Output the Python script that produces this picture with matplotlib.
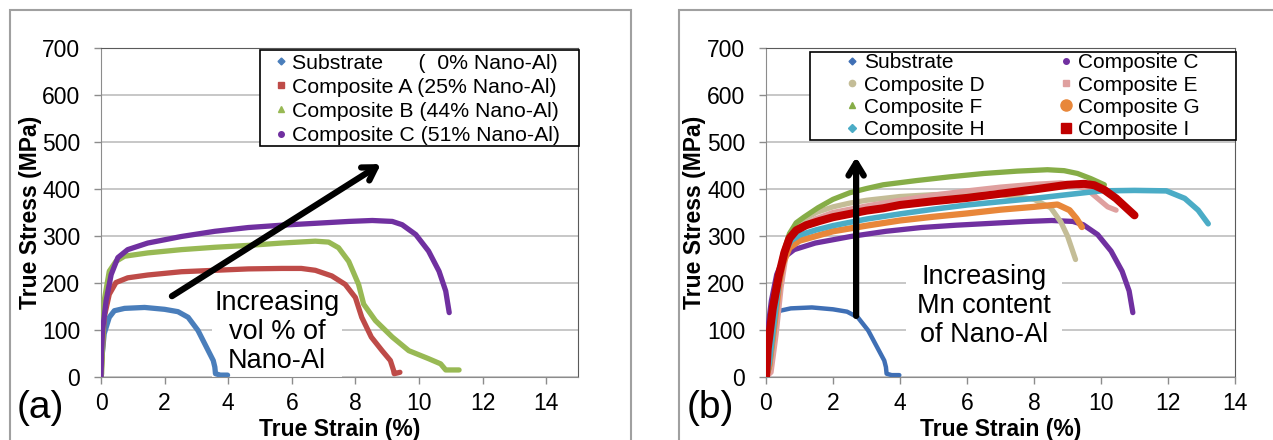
import matplotlib
matplotlib.use("Agg")
import matplotlib.pyplot as plt
from matplotlib.patches import Rectangle
from matplotlib.lines import Line2D

plt.rcParams['font.family'] = ['Liberation Sans', 'DejaVu Sans']

W, H, DPI = 1273, 440, 100

# ---------------- data (true strain %, true stress MPa) ----------------
substrate_x = [0.0, 0.02, 0.1, 0.26, 0.42, 0.74, 1.37, 2.0, 2.42, 2.74, 3.05, 3.32, 3.53, 3.58, 3.6, 3.75, 3.98]
substrate_y = [0, 35, 92, 127, 141, 146, 148, 144, 139, 127, 99, 63, 35, 21, 7, 4, 4]

compA_x = [0.0, 0.02, 0.1, 0.26, 0.47, 0.84, 1.47, 2.53, 3.58, 4.63, 5.68, 6.3, 6.74, 7.26, 7.68, 8.0, 8.2, 8.5, 8.84, 9.1, 9.2, 9.22, 9.4]
compA_y = [0, 28, 127, 176, 201, 211, 217, 224, 227, 230, 231, 231, 227, 215, 197, 169, 127, 85, 56, 35, 14, 7, 10]

compB_x = [0.0, 0.02, 0.1, 0.26, 0.47, 0.74, 1.47, 2.53, 3.58, 4.63, 5.68, 6.74, 7.16, 7.47, 7.79, 8.1, 8.26, 8.63, 9.16, 9.68, 10.3, 10.68, 10.84, 11.26]
compB_y = [0, 7, 162, 225, 246, 257, 264, 271, 276, 280, 285, 289, 287, 275, 246, 197, 155, 120, 85, 56, 39, 28, 15, 15]

compC_x = [0.0, 0.02, 0.05, 0.16, 0.32, 0.53, 0.84, 1.47, 2.53, 3.58, 4.63, 5.68, 6.74, 7.79, 8.53, 9.16, 9.47, 9.9, 10.3, 10.63, 10.84, 10.95]
compC_y = [0, 56, 100, 162, 218, 254, 271, 285, 299, 310, 318, 323, 327, 331, 333, 331, 324, 303, 268, 225, 183, 137]

compD_x = [0.0, 0.1, 0.25, 0.4, 0.55, 0.75, 1.0, 1.5, 2.0, 2.5, 3.0, 4.0, 5.0, 6.0, 7.0, 8.0, 8.5, 8.8, 9.0, 9.24]
compD_y = [0, 15, 100, 200, 265, 305, 330, 350, 362, 370, 376, 384, 388, 390, 388, 378, 360, 330, 300, 250]

compE_x = [0.0, 0.15, 0.3, 0.45, 0.6, 0.8, 1.0, 1.5, 2.0, 3.0, 4.0, 5.0, 6.0, 7.0, 8.0, 8.8, 9.2, 9.6, 9.9, 10.2, 10.45]
compE_y = [0, 10, 90, 190, 260, 300, 318, 337, 350, 364, 376, 387, 396, 404, 410, 413, 410, 398, 380, 362, 355]

compF_x = [0.0, 0.1, 0.2, 0.35, 0.5, 0.7, 0.9, 1.13, 1.55, 2.0, 2.5, 3.0, 3.5, 4.5, 5.5, 6.5, 7.5, 8.4, 8.9, 9.3, 9.7, 10.1]
compF_y = [0, 20, 80, 180, 260, 305, 328, 340, 360, 378, 392, 401, 409, 418, 426, 433, 438, 441, 439, 433, 422, 409]

compG_x = [0.0, 0.1, 0.25, 0.4, 0.5, 0.7, 1.0, 1.5, 2.0, 3.0, 4.0, 5.0, 6.0, 7.0, 8.0, 8.7, 9.06, 9.27, 9.43]
compG_y = [0, 25, 110, 200, 240, 275, 290, 300, 310, 322, 333, 341, 348, 356, 362, 367, 355, 337, 319]

compH_x = [0.0, 0.1, 0.25, 0.4, 0.55, 0.75, 1.0, 1.5, 2.0, 3.0, 4.0, 5.0, 6.0, 7.0, 8.0, 9.0, 10.0, 11.0, 11.95, 12.5, 12.9, 13.2]
compH_y = [0, 30, 120, 210, 265, 290, 302, 313, 322, 336, 347, 357, 366, 373, 380, 388, 396, 397, 396, 380, 355, 326]

compI_x = [0.0, 0.05, 0.2, 0.38, 0.55, 0.7, 0.9, 1.2, 1.6, 2.0, 2.5, 3.0, 3.5, 4.0, 5.0, 6.0, 7.0, 8.0, 8.6, 9.0, 9.5, 9.8, 10.1, 10.45, 10.77, 11.0]
compI_y = [0, 60, 145, 215, 265, 295, 312, 323, 332, 340, 347, 354, 359, 366, 374, 381, 390, 399, 405, 409, 411, 408, 398, 380, 359, 344]

labels_a = ["Substrate      (  0% Nano-Al)", "Composite A (25% Nano-Al)",
            "Composite B (44% Nano-Al)", "Composite C (51% Nano-Al)"]
labels_b = ["Substrate", "Composite C", "Composite D", "Composite E",
            "Composite F", "Composite G", "Composite H", "Composite I"]
x_ticks = [0, 2, 4, 6, 8, 10, 12, 14]
y_ticks = [0, 100, 200, 300, 400, 500, 600, 700]

# ---------------- styling ----------------
cA = {'sub': '#4A7EBB', 'A': '#BE4B48', 'B': '#98B954', 'C': '#7030A0'}
cB = {'sub': '#3F6FB5', 'C': '#7030A0', 'D': '#C4BD97', 'E': '#DFA09F',
      'F': '#86AD47', 'G': '#E8873A', 'H': '#4BACC6', 'I': '#C00000'}

fig = plt.figure(figsize=(W / DPI, H / DPI), dpi=DPI)
fig.patch.set_facecolor('white')


def fx(px):
    return px / W


def fy(py):
    return 1 - py / H


# outer panel frames
fig.patches.append(Rectangle((fx(10), fy(460)), fx(631) - fx(10), fy(10) - fy(460),
                             transform=fig.transFigure, fill=False, edgecolor='#A0A0A0', lw=1.5, zorder=-1))
fig.patches.append(Rectangle((fx(679), fy(460)), fx(1290) - fx(679), fy(10) - fy(460),
                             transform=fig.transFigure, fill=False, edgecolor='#A0A0A0', lw=1.5, zorder=-1))

axL = fig.add_axes([fx(101), fy(377), (578 - 101) / W, (377 - 48) / H])
axR = fig.add_axes([fx(766), fy(377), (1235 - 766) / W, (377 - 48) / H])


def style(ax, xmax):
    ax.set_xlim(0, xmax)
    ax.set_ylim(0, 700)
    ax.set_xticks(x_ticks)
    ax.set_yticks(y_ticks)
    ax.set_axisbelow(True)
    ax.yaxis.grid(True, color='#BEBEBE', lw=1.2)
    for s in ('left', 'bottom'):
        ax.spines[s].set_color('#8C8C8C')
    for s in ('top', 'right'):
        ax.spines[s].set_color('#5A5A5A')
    ax.tick_params(axis='y', length=5, width=1, color='#8C8C8C', pad=10, labelsize=16.5)
    ax.tick_params(axis='x', length=5, width=1, color='#8C8C8C', pad=6, labelsize=16.5)


style(axL, 15)
style(axR, 14)

kw = dict(solid_capstyle='round', solid_joinstyle='round', zorder=3)
# left panel curves
axL.plot(substrate_x, substrate_y, color=cA['sub'], lw=3.8, **kw)
axL.plot(compA_x, compA_y, color=cA['A'], lw=3.8, **kw)
axL.plot(compB_x, compB_y, color=cA['B'], lw=3.8, **kw)
axL.plot(compC_x, compC_y, color=cA['C'], lw=3.8, **kw)

# right panel curves
axR.plot(substrate_x, substrate_y, color=cB['sub'], lw=3.2, **kw)
axR.plot(compC_x, compC_y, color=cB['C'], lw=3.8, **kw)
axR.plot(compD_x, compD_y, color=cB['D'], lw=3.8, **kw)
axR.plot(compE_x, compE_y, color=cB['E'], lw=3.8, **kw)
axR.plot(compF_x, compF_y, color=cB['F'], lw=3.8, **kw)
axR.plot(compG_x, compG_y, color=cB['G'], lw=4.5, **kw)
axR.plot(compH_x, compH_y, color=cB['H'], lw=4.0, **kw)
axR.plot(compI_x, compI_y, color=cB['I'], lw=5.8, **kw)

# axis labels
fig.text(fx(31), fy(212), "True Stress (MPa)", rotation=90, ha='center', va='center',
         fontsize=16.5, fontweight='bold')
fig.text(fx(695), fy(212), "True Stress (MPa)", rotation=90, ha='center', va='center',
         fontsize=16.5, fontweight='bold')
fig.text(fx(340), fy(429), "True Strain (%)", ha='center', va='center', fontsize=16.5, fontweight='bold')
fig.text(fx(1001), fy(429), "True Strain (%)", ha='center', va='center', fontsize=16.5, fontweight='bold')

# panel letters
fig.text(fx(40), fy(408), "(a)", ha='center', va='center', fontsize=28)
fig.text(fx(710), fy(408), "(b)", ha='center', va='center', fontsize=28)

# annotations
axL.text(5.53, 96, "Increasing\nvol % of\nNano-Al", ha='center', va='center', fontsize=19.5,
         linespacing=1.15, zorder=2, bbox=dict(facecolor='white', edgecolor='none', pad=2))
axR.text(6.5, 151, "Increasing\nMn content\nof Nano-Al", ha='center', va='center', fontsize=19.5,
         linespacing=1.15, zorder=2, bbox=dict(facecolor='white', edgecolor='none', pad=8))

axL.annotate('', xy=(8.8, 453), xytext=(2.23, 172),
             arrowprops=dict(arrowstyle='->,head_length=0.9,head_width=0.55', lw=4.5, color='black',
                             shrinkA=0, shrinkB=0), zorder=6)
axR.annotate('', xy=(2.69, 468), xytext=(2.69, 130),
             arrowprops=dict(arrowstyle='->,head_length=0.9,head_width=0.55', lw=4.5, color='black',
                             shrinkA=0, shrinkB=0), zorder=6)

# legend frames (drawn inside the axes, below the legend entries)
axL.add_patch(Rectangle((fx(260), fy(146)), fx(579) - fx(260), fy(50) - fy(146),
                        transform=fig.transFigure, facecolor='white', edgecolor='black', lw=1.2,
                        zorder=4, clip_on=False))
axR.add_patch(Rectangle((fx(810), fy(140)), fx(1236) - fx(810), fy(52) - fy(140),
                        transform=fig.transFigure, facecolor='white', edgecolor='black', lw=1.2,
                        zorder=4, clip_on=False))

hA = [Line2D([], [], ls='none', marker='D', ms=3.5, color=cA['sub']),
      Line2D([], [], ls='none', marker='s', ms=4, color=cA['A']),
      Line2D([], [], ls='none', marker='^', ms=4.5, color=cA['B']),
      Line2D([], [], ls='none', marker='o', ms=4, color=cA['C'])]
legA = axL.legend(hA, labels_a, loc='upper left', bbox_to_anchor=(fx(274.75), fy(53.5)),
                  bbox_transform=fig.transFigure, frameon=False, borderpad=0, borderaxespad=0,
                  handlelength=0.6, handletextpad=0.23, labelspacing=0.245, fontsize=15.3)
legA.set_zorder(5)

hB = {'Substrate': Line2D([], [], ls='none', marker='D', ms=3.5, color=cB['sub']),
      'Composite C': Line2D([], [], ls='none', marker='o', ms=4, color=cB['C']),
      'Composite D': Line2D([], [], ls='none', marker='o', ms=4.5, color=cB['D']),
      'Composite E': Line2D([], [], ls='none', marker='s', ms=4.5, color=cB['E']),
      'Composite F': Line2D([], [], ls='none', marker='^', ms=4.5, color=cB['F']),
      'Composite G': Line2D([], [], ls='none', marker='o', ms=8, color=cB['G']),
      'Composite H': Line2D([], [], ls='none', marker='D', ms=4, color=cB['H']),
      'Composite I': Line2D([], [], ls='none', marker='s', ms=6.5, color=cB['I'])}
orderB = [labels_b[i] for i in (0, 2, 4, 6, 1, 3, 5, 7)]
legB = axR.legend([hB[k] for k in orderB], orderB, ncol=2, loc='upper left',
                  bbox_to_anchor=(fx(845.75), fy(53.5)), bbox_transform=fig.transFigure,
                  frameon=False, borderpad=0, borderaxespad=0, handlelength=0.6,
                  handletextpad=0.28, labelspacing=0.15, columnspacing=3.62, fontsize=15)
legB.set_zorder(5)

fig.savefig("out.png", dpi=DPI, facecolor='white')
